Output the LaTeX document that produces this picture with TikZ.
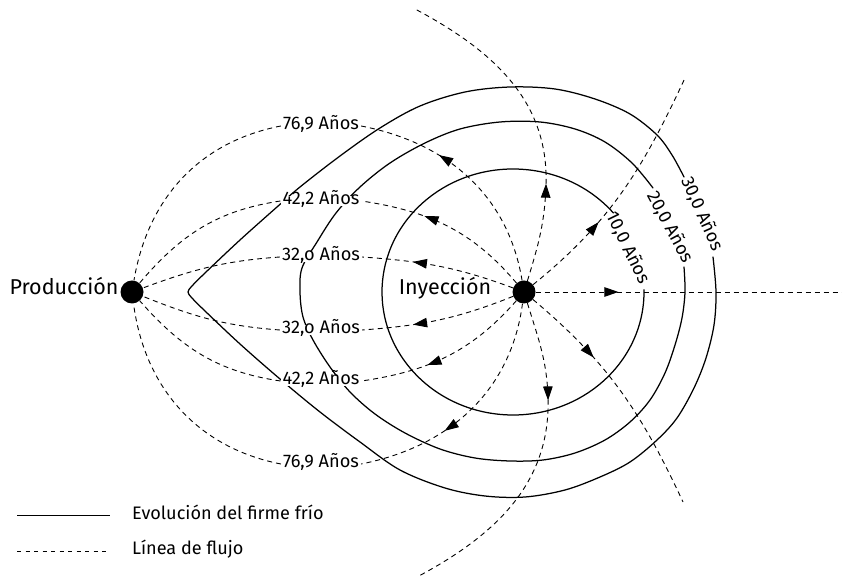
\documentclass[tikz,border=0pt]{standalone}
\usepackage{fontspec}
\setmainfont{Fira Sans}
\usetikzlibrary{arrows.meta,decorations.markings}

\begin{document}
\begin{tikzpicture}[x=1pt,y=1pt,
  front/.style={line width=1.25pt, line join=round, line cap=round},
  flow/.style={line width=0.9pt, dash pattern=on 5pt off 4pt},
  well/.style={circle, fill=black, minimum size=23pt, inner sep=0pt},
  yearlbl/.style={font=\fontsize{18.2}{21}\selectfont, fill=white, inner sep=2pt,
    text height=0.69em, text depth=0pt},
  frontlbl/.style={font=\fontsize{18.2}{21}\selectfont, inner sep=1pt,
    text height=0.69em, text depth=0pt},
  welllbl/.style={font=\fontsize{21.5}{24}\selectfont, inner sep=0pt,
    text height=0.69em, text depth=0pt},
  legendlbl/.style={font=\fontsize{18.1}{22}\selectfont, inner sep=2pt, anchor=west,
    text height=0.69em, text depth=0pt},
  tipat/.style={postaction={decorate}, decoration={markings,
    mark=at position #1 with {\arrow{Triangle[length=14pt,width=9.5pt]}}}},
]
\useasboundingbox (0,0) rectangle (842,580);

% cold front after 30 years (opens at its label)
\draw[front] plot[smooth, tension=0.55] coordinates {
  (713,323) (716,288) (714,255) (706,222) (694,192) (677,162) (657,140)
  (630,118) (600,103) (565,90) (525,83) (485,84) (445,92) (400,110)
  (360,138) (320,168) (280,201) (240,236) (205,269) (192,282) (188,288)
  (192,294) (205,307) (240,340) (277,373) (300,393) (340,424) (380,452)
  (420,474) (465,488) (510,493) (555,491) (595,481) (630,466) (657,445)
  (672,425) (684,403)};
% cold front after 20 years
\draw[front] plot[smooth, tension=0.55] coordinates {
  (684,313) (685,288) (682,262) (675,235) (665,207) (650,180) (630,158)
  (605,140) (575,127) (543,120) (510,119) (475,122) (440,131) (405,147)
  (375,166) (350,188) (330,213) (313,240) (303,263) (300,288) (302,312)
  (317,338) (336,367) (360,393) (390,417) (425,437) (460,451) (500,458)
  (540,458) (575,451) (605,438) (632,417) (653,392)};
% cold front after 10 years
\coordinate (c10) at (513,288);
\draw[front] (c10) ++(40:131pt and 123pt)
  arc[start angle=40, end angle=361, x radius=131pt, y radius=123pt];

% wells
\node[well] (P) at (132,288) {};
\node[well] (I) at (524,288) {};
\node[welllbl] (tP) at (64,288.5) {Producción};
\node[welllbl] (tI) at (445,288.5) {Inyección};

% travel time labels
\node[yearlbl] (l76u) at (321,454) {76,9 Años};
\node[yearlbl] (l42u) at (321,379) {42,2 Años};
\node[yearlbl] (l32u) at (321,323) {32,o Años};
\node[yearlbl] (l32d) at (321,250) {32,o Años};
\node[yearlbl] (l42d) at (321,199) {42,2 Años};
\node[yearlbl] (l76d) at (321,116) {76,9 Años};

% front labels
\node[frontlbl, rotate=-64] (f10) at (626,331) {10,0 Años};
\node[frontlbl, rotate=-62] (f20) at (668,352) {20,0 Años};
\node[frontlbl, rotate=-66] (f30) at (700,365) {30,0 Años};

% streamlines between the wells
\draw[flow, tipat=0.65] (I) to[out=99.5, in=-11] (l76u.east);
\draw[flow] (l76u.west) to[out=191, in=80.5] (P);
\draw[flow, tipat=0.64] (I) to[out=130.2, in=-8.6] (l42u.east);
\draw[flow] (l42u.west) to[out=188.6, in=49.8] (P);
\draw[flow, tipat=0.67] (I) to[out=159.8, in=-4] (l32u.east);
\draw[flow] (l32u.west) to[out=184, in=20.3] (P);
\draw[flow, tipat=0.67] (I) to[out=201.9, in=4.2] (l32d.east);
\draw[flow] (l32d.west) to[out=175.8, in=-21.9] (P);
\draw[flow, tipat=0.62] (I) to[out=228.8, in=8.4] (l42d.east);
\draw[flow] (l42d.west) to[out=171.6, in=-48.8] (P);
\draw[flow, tipat=0.63] (I) to[out=262.6, in=11.1] (l76d.east);
\draw[flow] (l76d.west) to[out=168.9, in=-82.6] (P);

% streamlines leaving the field
\coordinate (eR) at (842,288);
\coordinate (uA) at (546,395);
\coordinate (uE) at (415,571);
\coordinate (dA) at (548,183);
\coordinate (dE) at (417,3);
\coordinate (urE) at (685,502);
\coordinate (drE) at (683,78);
\draw[flow, tipat=0.27] (I) -- (eR);
\draw[flow, tipat=0.30] (I) to[out=73, in=-92] (uA) to[out=88, in=-28] (uE);
\draw[flow, tipat=0.30] (I) to[out=-73, in=92] (dA) to[out=-88, in=28] (dE);
\draw[flow, tipat=0.35] (I) to[out=39, in=-115] (urE);
\draw[flow, tipat=0.33] (I) to[out=-40, in=115] (drE);

% legend
\coordinate (ls1) at (17,64);
\coordinate (ls2) at (110,64);
\coordinate (ld1) at (17,29);
\coordinate (ld2) at (110,29);
\draw[line width=1pt] (ls1) -- (ls2);
\draw[line width=0.9pt, dash pattern=on 4pt off 4.5pt] (ld1) -- (ld2);
\node[legendlbl] (lg1) at (130,63.5) {Evolución del firme frío};
\node[legendlbl] (lg2) at (130,29) {Línea de flujo};
\end{tikzpicture}
\end{document}
